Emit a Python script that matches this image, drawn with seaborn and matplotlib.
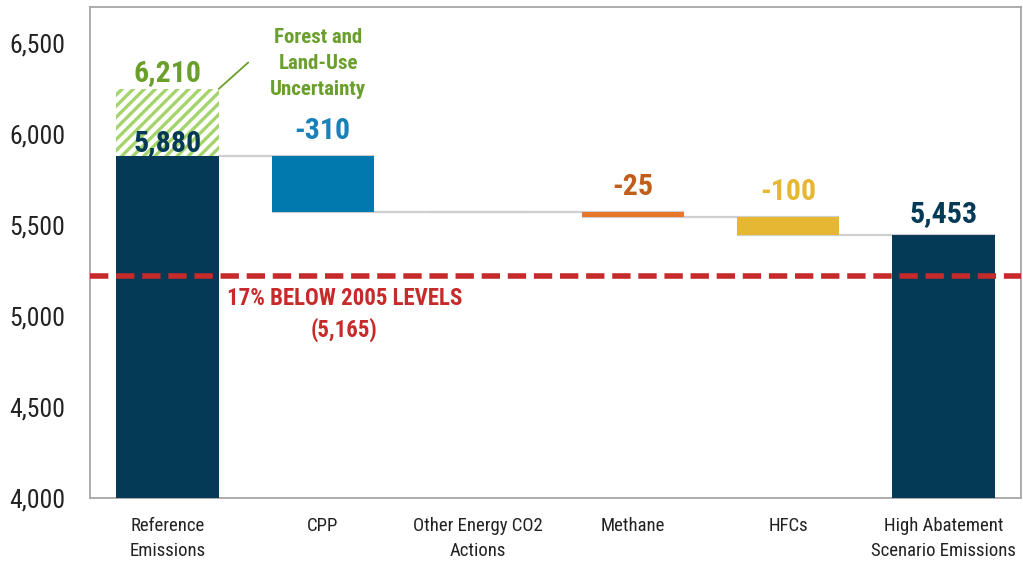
import numpy as np
import pandas as pd
import matplotlib
matplotlib.use("Agg")
import matplotlib.pyplot as plt
from matplotlib import font_manager
import seaborn as sns

# ---------------- data ----------------
categories = ["Reference\nEmissions", "CPP", "Other Energy CO2\nActions",
              "Methane", "HFCs", "High Abatement\nScenario Emissions"]
reference_total = 5880
changes = [-310, 0, -25, -100]          # CPP, Other Energy, Methane, HFCs
uncertainty_top = 6250                   # top of hatched forest/land-use band
target_level = 5220                      # dashed red line as drawn
value_labels = ["5,880", "-310", "", "-25", "-100", "5,453"]
uncertainty_label = "6,210"
target_label = "17% BELOW 2005 LEVELS\n(5,165)"
forest_label = "Forest and\nLand-Use\nUncertainty"
yticks = [4000, 4500, 5000, 5500, 6000, 6500]
ytick_labels = ["4,000", "4,500", "5,000", "5,500", "6,000", "6,500"]
bar_colors = ["#043a56", "#0178ae", "#ffffff", "#e8772a", "#e6b733", "#043a56"]
label_colors = ["#043a56", "#1a80b8", "#ffffff", "#c25e1c", "#e6b733", "#043a56"]
green = "#6a9f2c"
hatch_green = "#a6d46c"
red = "#c62a2a"
y_min, y_max = 4000, 6700

# waterfall geometry from the data
levels = [reference_total]
for c in changes:
    levels.append(levels[-1] + c)
final_total = levels[-1]
tops = [reference_total]
bottoms = [y_min]
for i, c in enumerate(changes):
    tops.append(max(levels[i], levels[i + 1]))
    bottoms.append(min(levels[i], levels[i + 1]))
tops.append(final_total)
bottoms.append(y_min)

df = pd.DataFrame({"category": categories, "top": tops, "bottom": bottoms})

# ---------------- style ----------------
sns.set_style("white")

# pick a condensed font if one is installed
fl = font_manager.fontManager.ttflist
names = {f.name for f in fl}
family, stretch, scale = None, "normal", 1.0
for cand in ["Roboto Condensed", "Liberation Sans Narrow", "Open Sans Condensed",
             "DejaVu Sans Condensed"]:
    if cand in names:
        family, scale = cand, 1.0
        break
if family is None:
    for base in ["Roboto", "Open Sans", "DejaVu Sans"]:
        if any(f.name == base and f.stretch in ("condensed", "semi-condensed", 500, 300, 400)
               and f.stretch not in ("normal",) for f in fl):
            family, stretch, scale = base, "condensed", 1.0
            break
if family is None:
    family, scale = "Roboto", 0.82

plt.rcParams["font.family"] = [family, "DejaVu Sans"]
plt.rcParams["font.stretch"] = stretch
plt.rcParams["hatch.linewidth"] = 2.4

fig = plt.figure(figsize=(10.23, 5.65), dpi=100)
ax = fig.add_axes([90 / 1023, 1 - 498 / 565, 931 / 1023, 491 / 565])

bw = 0.66
sns.barplot(data=df, x="category", y="top", hue="category", order=categories,
            hue_order=categories, palette=bar_colors, legend=False, width=bw,
            saturation=1, linewidth=0, ax=ax, zorder=3)
main_patches = list(ax.patches)
for p, b, t in zip(main_patches, bottoms, tops):
    p.set_y(b)
    p.set_height(t - b)

# hatched uncertainty band on the reference bar
unc = pd.DataFrame({"category": [categories[0]], "top": [uncertainty_top]})
sns.barplot(data=unc, x="category", y="top", order=categories, color="white",
            width=bw, saturation=1, linewidth=0, ax=ax, zorder=3)
hp = ax.patches[-1]
hp.set_y(reference_total)
hp.set_height(uncertainty_top - reference_total)
hp.set_facecolor("white")
hp.set_edgecolor(hatch_green)
hp.set_hatch("///")
hp.set_linewidth(0)

# connectors
for i, lev in enumerate(levels):
    ax.hlines(lev, i - bw / 2, i + 1 + bw / 2, color="#cfcfcf", lw=1.6, zorder=2)

# target line
ax.axhline(target_level, color=red, lw=4, dashes=(3.3, 1.4), zorder=4)
ax.text(1.14, target_level - 212, target_label, color=red, fontsize=16.5 * scale,
        fontweight="bold", ha="center", va="center", linespacing=1.4, zorder=5)

# value labels
offsets = [-1, 8, 0, 8, 8, 5]
for i, (lab, col) in enumerate(zip(value_labels, label_colors)):
    if not lab:
        continue
    ax.annotate(lab, (i, tops[i]), xytext=(0, offsets[i]), textcoords="offset points",
                ha="center", va="bottom", fontsize=21.5 * scale, fontweight="bold",
                color=col, zorder=6)
ax.annotate(uncertainty_label, (0, uncertainty_top), xytext=(0, 1),
            textcoords="offset points", ha="center", va="bottom", fontsize=21.5 * scale,
            fontweight="bold", color=green, zorder=6)

# forest note and leader line
ax.text(0.97, 6390, forest_label, color=green, fontsize=15 * scale, fontweight="bold",
        ha="center", va="center", linespacing=1.45)
ax.plot([bw / 2, 0.52], [uncertainty_top, 6395], color=green, lw=1.3, zorder=5)

# axes
ax.set_xlim(-0.5, len(categories) - 0.5)
ax.set_ylim(y_min, y_max)
ax.set_yticks(yticks)
ax.set_yticklabels(ytick_labels, fontsize=18.5 * scale, color="#222222")
ax.set_xticks(range(len(categories)))
ax.set_xticklabels(categories, fontsize=13.5 * scale, color="#222222", linespacing=1.5)
ax.set_xlabel("")
ax.set_ylabel("")
ax.tick_params(axis="y", length=0, pad=18)
ax.tick_params(axis="x", length=0, pad=14)
for s in ax.spines.values():
    s.set_visible(True)
    s.set_color("#a6a6a6")
    s.set_linewidth(1.3)

fig.savefig("out.png", dpi=100)
